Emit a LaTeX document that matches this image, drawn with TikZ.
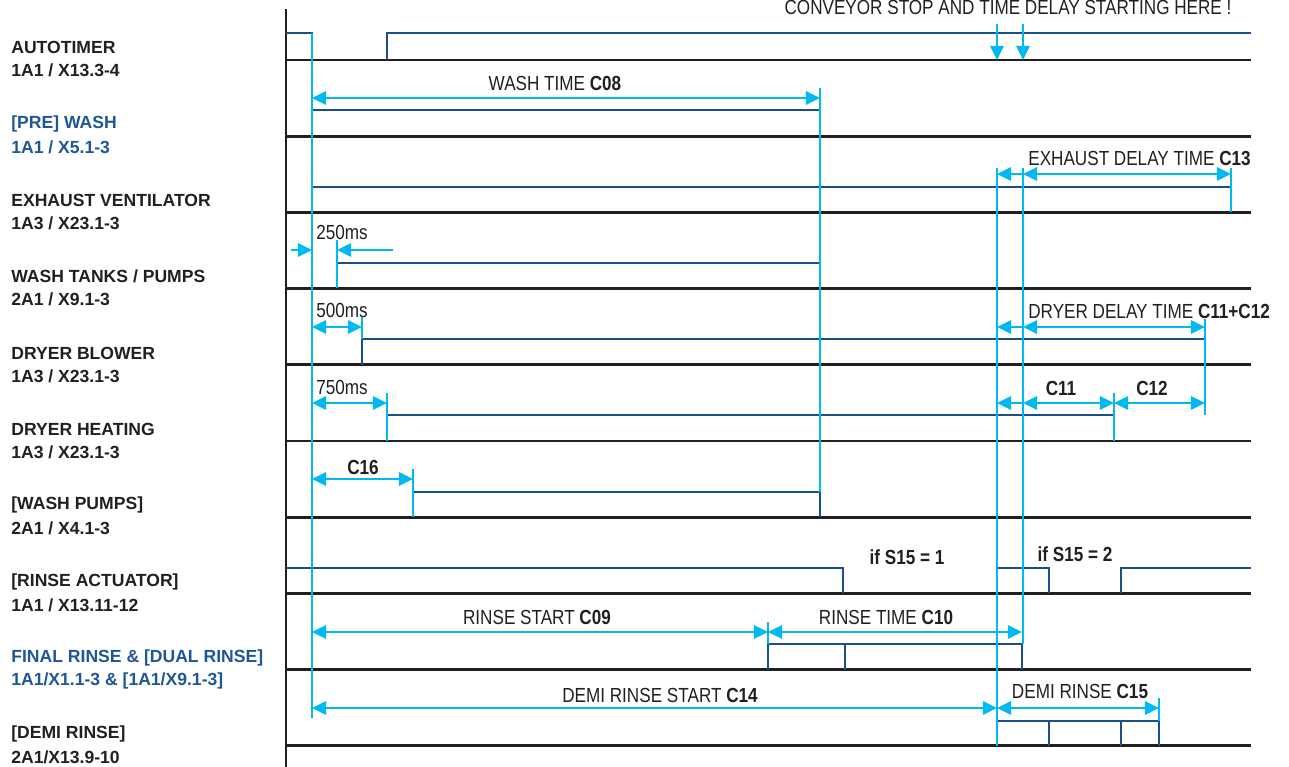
\documentclass[tikz,border=0pt]{standalone}
\usepackage{fontspec}
\setmainfont{Liberation Sans}
\newfontfamily\narrowfont{Liberation Sans}[FakeStretch=0.84]
\usetikzlibrary{arrows.meta}

\definecolor{sigblue}{HTML}{1B4F8C}
\definecolor{timecyan}{HTML}{00B9F1}
\definecolor{txtdark}{HTML}{231F20}
\definecolor{lblblue}{HTML}{1F5796}

\begin{document}
\begin{tikzpicture}[
    x=0.02cm, y=-0.02cm,
    base/.style={draw=txtdark, line width=1.5pt},
    sig/.style={draw=sigblue, line width=1.3pt},
    timeline/.style={draw=timecyan, line width=1.4pt},
    dimarrow/.style={<->, >={Triangle[length=8pt, width=7.5pt]}, draw=timecyan, fill=timecyan, line width=1.4pt},
    onearrow/.style={->, >={Triangle[length=8pt, width=7.5pt]}, draw=timecyan, fill=timecyan, line width=1.4pt},
    lbl/.style={anchor=west, inner sep=0pt, text=txtdark, font=\fontsize{10}{12}\selectfont\bfseries},
    lblb/.style={lbl, text=lblblue},
    ann/.style={inner sep=0pt, text=txtdark, font=\narrowfont\fontsize{11.6}{13}\selectfont},
    annb/.style={ann, font=\narrowfont\fontsize{11.6}{13}\selectfont\bfseries}
]
\useasboundingbox (0,0) rectangle (1289,767);

% row labels
\node[lbl] (l0a) at (11,47) {AUTOTIMER};
\node[lbl] (l0b) at (11,70) {1A1 / X13.3-4};
\node[lblb] (l1a) at (11,124) {[PRE] WASH};
\node[lblb] (l1b) at (11,147) {1A1 / X5.1-3};
\node[lbl] (l2a) at (11,200) {EXHAUST VENTILATOR};
\node[lbl] (l2b) at (11,223) {1A3 / X23.1-3};
\node[lbl] (l3a) at (11,276) {WASH TANKS / PUMPS};
\node[lbl] (l3b) at (11,299) {2A1 / X9.1-3};
\node[lbl] (l4a) at (11,353) {DRYER BLOWER};
\node[lbl] (l4b) at (11,376) {1A3 / X23.1-3};
\node[lbl] (l5a) at (11,429) {DRYER HEATING};
\node[lbl] (l5b) at (11,452) {1A3 / X23.1-3};
\node[lbl] (l6a) at (11,505) {[WASH PUMPS]};
\node[lbl] (l6b) at (11,528) {2A1 / X4.1-3};
\node[lbl] (l7a) at (11,582) {[RINSE ACTUATOR]};
\node[lbl] (l7b) at (11,605) {1A1 / X13.11-12};
\node[lblb] (l8a) at (11,658) {FINAL RINSE \& [DUAL RINSE]};
\node[lblb] (l8b) at (11,681) {1A1/X1.1-3 \& [1A1/X9.1-3]};
\node[lbl] (l9a) at (11,734) {[DEMI RINSE]};
\node[lbl] (l9b) at (11,757) {2A1/X13.9-10};

% axis and baselines
\draw[base] (286,9) -- (286,767);
\foreach \i in {0,...,9}
  \draw[base] (286,{60+76.2*\i}) -- (1251,{60+76.2*\i});

% signals
\draw[sig] (286,33) -- (312,33) -- (312,60);
\draw[sig] (387,60) -- (387,33) -- (1251,33);
\draw[sig] (312,110) -- (820,110);
\draw[sig] (312,187) -- (1231,187);
\draw[sig] (337,263) -- (820,263);
\draw[sig] (362,365) -- (362,339) -- (1205,339);
\draw[sig] (387,415) -- (1114,415);
\draw[sig] (413,492) -- (820,492) -- (820,517);
\draw[sig] (286,568) -- (843,568) -- (843,593);
\draw[sig] (997,568) -- (1049,568) -- (1049,593);
\draw[sig] (1121,593) -- (1121,568) -- (1251,568);
\draw[sig] (768,670) -- (768,644) -- (1022,644) -- (1022,670);
\draw[sig] (845,644) -- (845,670);
\draw[sig] (997,721) -- (1159,721) -- (1159,746);
\draw[sig] (1049,721) -- (1049,746);
\draw[sig] (1121,721) -- (1121,746);

% time marks
\draw[timeline] (312,33) -- (312,718);
\draw[timeline] (820,88) -- (820,492);
\draw[timeline] (997,168) -- (997,746);
\draw[timeline] (1023,168) -- (1023,644);
\draw[timeline] (1231,168) -- (1231,212);
\draw[timeline] (337,240) -- (337,288);
\draw[timeline] (362,317) -- (362,339);
\draw[timeline] (1205,319) -- (1205,415);
\draw[timeline] (387,393) -- (387,441);
\draw[timeline] (1114,393) -- (1114,441);
\draw[timeline] (413,469) -- (413,517);
\draw[timeline] (768,622) -- (768,644);
\draw[timeline] (1159,698) -- (1159,721);

% conveyor stop
\node[ann, anchor=base] (conv) at (1008,15) {CONVEYOR STOP AND TIME DELAY STARTING HERE !};
\draw[onearrow] (997,24) -- (997,60);
\draw[onearrow] (1023,24) -- (1023,60);

% durations
\draw[dimarrow] (312,98) -- (820,98);
\node[ann] (c08) at (555,83) {WASH TIME \textbf{C08}};

\draw[onearrow] (1023,174) -- (997,174);
\draw[dimarrow] (1023,174) -- (1231,174);
\node[ann, anchor=west] (c13) at (1028,158) {EXHAUST DELAY TIME \textbf{C13}};

\draw[onearrow] (291,250) -- (312,250);
\draw[onearrow] (393,250) -- (337,250);
\node[ann, anchor=west] (t250) at (316,232) {250ms};

\draw[dimarrow] (312,327) -- (362,327);
\node[ann, anchor=west] (t500) at (316,310) {500ms};
\draw[onearrow] (1023,327) -- (997,327);
\draw[dimarrow] (1023,327) -- (1205,327);
\node[ann, anchor=west] (c1112) at (1028,311) {DRYER DELAY TIME \textbf{C11+C12}};

\draw[dimarrow] (312,403) -- (387,403);
\node[ann, anchor=west] (t750) at (316,387) {750ms};
\draw[onearrow] (1023,403) -- (997,403);
\draw[dimarrow] (1023,403) -- (1114,403);
\draw[dimarrow] (1114,403) -- (1205,403);
\node[annb] (c11) at (1061,388) {C11};
\node[annb] (c12) at (1152,388) {C12};

\draw[dimarrow] (312,479) -- (413,479);
\node[annb] (c16) at (363,467) {C16};

\node[annb] (s1) at (907,557) {if S15 = 1};
\node[annb] (s2) at (1075,554) {if S15 = 2};

\draw[dimarrow] (312,632) -- (768,632);
\draw[dimarrow] (768,632) -- (1022,632);
\node[ann] (c09) at (537,617) {RINSE START \textbf{C09}};
\node[ann] (c10) at (886,617) {RINSE TIME \textbf{C10}};

\draw[dimarrow] (312,708) -- (997,708);
\draw[dimarrow] (997,708) -- (1159,708);
\node[ann] (c14) at (660,695) {DEMI RINSE START \textbf{C14}};
\node[ann] (c15) at (1080,691) {DEMI RINSE \textbf{C15}};

\end{tikzpicture}
\end{document}
